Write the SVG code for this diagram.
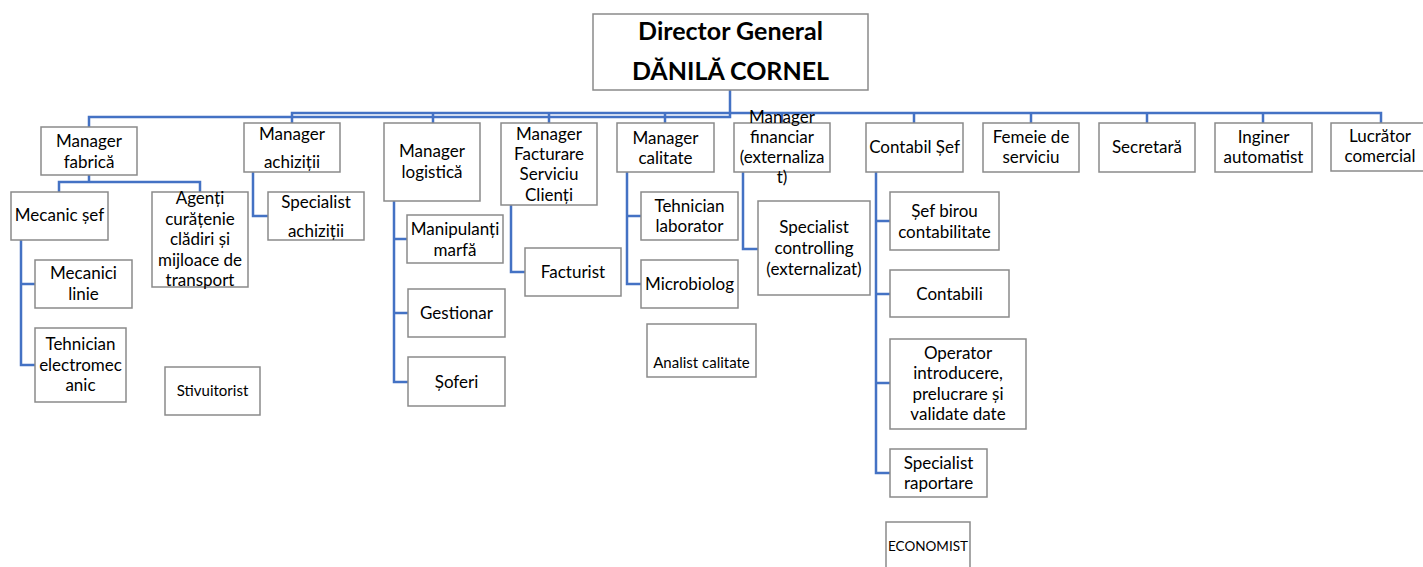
<svg xmlns="http://www.w3.org/2000/svg" width="1423" height="567" viewBox="0 0 1423 567">
<style>
rect{fill:#fff;stroke:#8a8a8a;stroke-width:1.5}
text{font-family:Lato,"Open Sans","Liberation Sans",sans-serif;font-size:17px;fill:#000;text-anchor:middle}
.b{font-weight:bold;font-size:25px}
.s{font-size:15px}
.e{font-size:13.5px}
#connectors path{fill:none;stroke:#4472C4;stroke-width:2.5}
</style>
<rect x="0" y="0" width="1423" height="567" style="fill:#fff;stroke:none"/>
<g id="connectors">
<path d="M730 90V117H89V127"/>
<path d="M292 123V113H1381V123"/>
<path d="M433 113V123M549 113V123M665 113V123M782 113V123M914 113V123M1031 113V123M1147 113V123M1263 113V123"/>
<path d="M89 175V182M59 192V182H200V192"/>
<path d="M21 240V365H35M21 284H35"/>
<path d="M253 172V216H268"/>
<path d="M394 201V382H408M394 239H407M394 313H408"/>
<path d="M511 205V272H525"/>
<path d="M627 172V284H641M627 216H641"/>
<path d="M743 172V249H758"/>
<path d="M876 172V473H890M876 221H890M876 294H890M876 383H890"/>
</g>
<g id="director"><rect x="593" y="14" width="275" height="76"/><text class="b" x="730.5" y="40">Director General</text><text class="b" x="730.5" y="80">DĂNILĂ CORNEL</text></g>
<g id="manager-fabrica"><rect x="41" y="127" width="96" height="48"/><text x="89" y="147">Manager</text><text x="89" y="168">fabrică</text></g>
<g id="manager-achizitii"><rect x="244" y="123" width="96" height="49"/><text x="292" y="140">Manager</text><text x="292" y="168">achiziții</text></g>
<g id="manager-logistica"><rect x="384" y="123" width="96" height="78"/><text x="432" y="157">Manager</text><text x="432" y="178">logistică</text></g>
<g id="manager-facturare"><rect x="501" y="123" width="96" height="82"/><text x="549" y="140">Manager</text><text x="549" y="160">Facturare</text><text x="549" y="180">Serviciu</text><text x="549" y="201">Clienți</text></g>
<g id="manager-calitate"><rect x="617" y="123" width="97" height="49"/><text x="665.5" y="144">Manager</text><text x="665.5" y="164">calitate</text></g>
<g id="manager-financiar"><rect x="734" y="123" width="96" height="49"/><text x="782" y="123">Manager</text><text x="782" y="143">financiar</text><text x="782" y="163">(externaliza</text><text x="782" y="183">t)</text></g>
<g id="contabil-sef"><rect x="866" y="123" width="97" height="49"/><text x="914.5" y="153">Contabil Șef</text></g>
<g id="femeie-de-serviciu"><rect x="983" y="123" width="96" height="49"/><text x="1031" y="143">Femeie de</text><text x="1031" y="163">serviciu</text></g>
<g id="secretara"><rect x="1099" y="123" width="96" height="49"/><text x="1147" y="153">Secretară</text></g>
<g id="inginer-automatist"><rect x="1215" y="123" width="97" height="49"/><text x="1263.5" y="143">Inginer</text><text x="1263.5" y="163">automatist</text></g>
<g id="lucrator-comercial"><rect x="1331" y="123" width="97" height="48"/><text x="1380" y="142">Lucrător</text><text x="1380" y="162">comercial</text></g>
<g id="mecanic-sef"><rect x="11" y="192" width="97" height="48"/><text x="59.5" y="221">Mecanic șef</text></g>
<g id="agenti-curatenie"><rect x="152" y="192" width="96" height="95"/><text x="200" y="204">Agenți</text><text x="200" y="224.5">curățenie</text><text x="200" y="245">clădiri și</text><text x="200" y="265.5">mijloace de</text><text x="200" y="286">transport</text></g>
<g id="mecanici-linie"><rect x="35" y="260" width="97" height="48"/><text x="83.5" y="279">Mecanici</text><text x="83.5" y="300">linie</text></g>
<g id="tehnician-electromecanic"><rect x="35" y="328" width="91" height="74"/><text x="80.5" y="350">Tehnician</text><text x="80.5" y="371">electromec</text><text x="80.5" y="391">anic</text></g>
<g id="stivuitorist"><rect x="165" y="367" width="95" height="48"/><text class="s" x="212.5" y="396">Stivuitorist</text></g>
<g id="specialist-achizitii"><rect x="268" y="192" width="96" height="48"/><text x="316" y="208">Specialist</text><text x="316" y="237">achiziții</text></g>
<g id="manipulanti-marfa"><rect x="407" y="215" width="96" height="48"/><text x="455" y="235">Manipulanți</text><text x="455" y="256">marfă</text></g>
<g id="gestionar"><rect x="408" y="289" width="97" height="48"/><text x="456.5" y="319">Gestionar</text></g>
<g id="soferi"><rect x="408" y="357" width="97" height="49"/><text x="456.5" y="388">Șoferi</text></g>
<g id="facturist"><rect x="525" y="248" width="96" height="48"/><text x="573" y="278">Facturist</text></g>
<g id="tehnician-laborator"><rect x="641" y="192" width="97" height="48"/><text x="689.5" y="212">Tehnician</text><text x="689.5" y="232">laborator</text></g>
<g id="microbiolog"><rect x="641" y="260" width="97" height="48"/><text x="689.5" y="290">Microbiolog</text></g>
<g id="analist-calitate"><rect x="647" y="324" width="109" height="53"/><text class="s" x="701.5" y="368">Analist calitate</text></g>
<g id="specialist-controlling"><rect x="758" y="201" width="112" height="94"/><text x="814" y="233">Specialist</text><text x="814" y="254">controlling</text><text x="814" y="275">(externalizat)</text></g>
<g id="sef-birou-contabilitate"><rect x="890" y="192" width="109" height="58"/><text x="944.5" y="217">Șef birou</text><text x="944.5" y="238">contabilitate</text></g>
<g id="contabili"><rect x="890" y="270" width="119" height="47"/><text x="949.5" y="300">Contabili</text></g>
<g id="operator"><rect x="890" y="339" width="136" height="90"/><text x="958" y="359">Operator</text><text x="958" y="379">introducere,</text><text x="958" y="400">prelucrare și</text><text x="958" y="420">validate date</text></g>
<g id="specialist-raportare"><rect x="890" y="449" width="97" height="48"/><text x="938.5" y="469">Specialist</text><text x="938.5" y="489">raportare</text></g>
<g id="economist"><rect x="886" y="522" width="84" height="60"/><text class="e" x="928" y="551">ECONOMIST</text></g>
</svg>
